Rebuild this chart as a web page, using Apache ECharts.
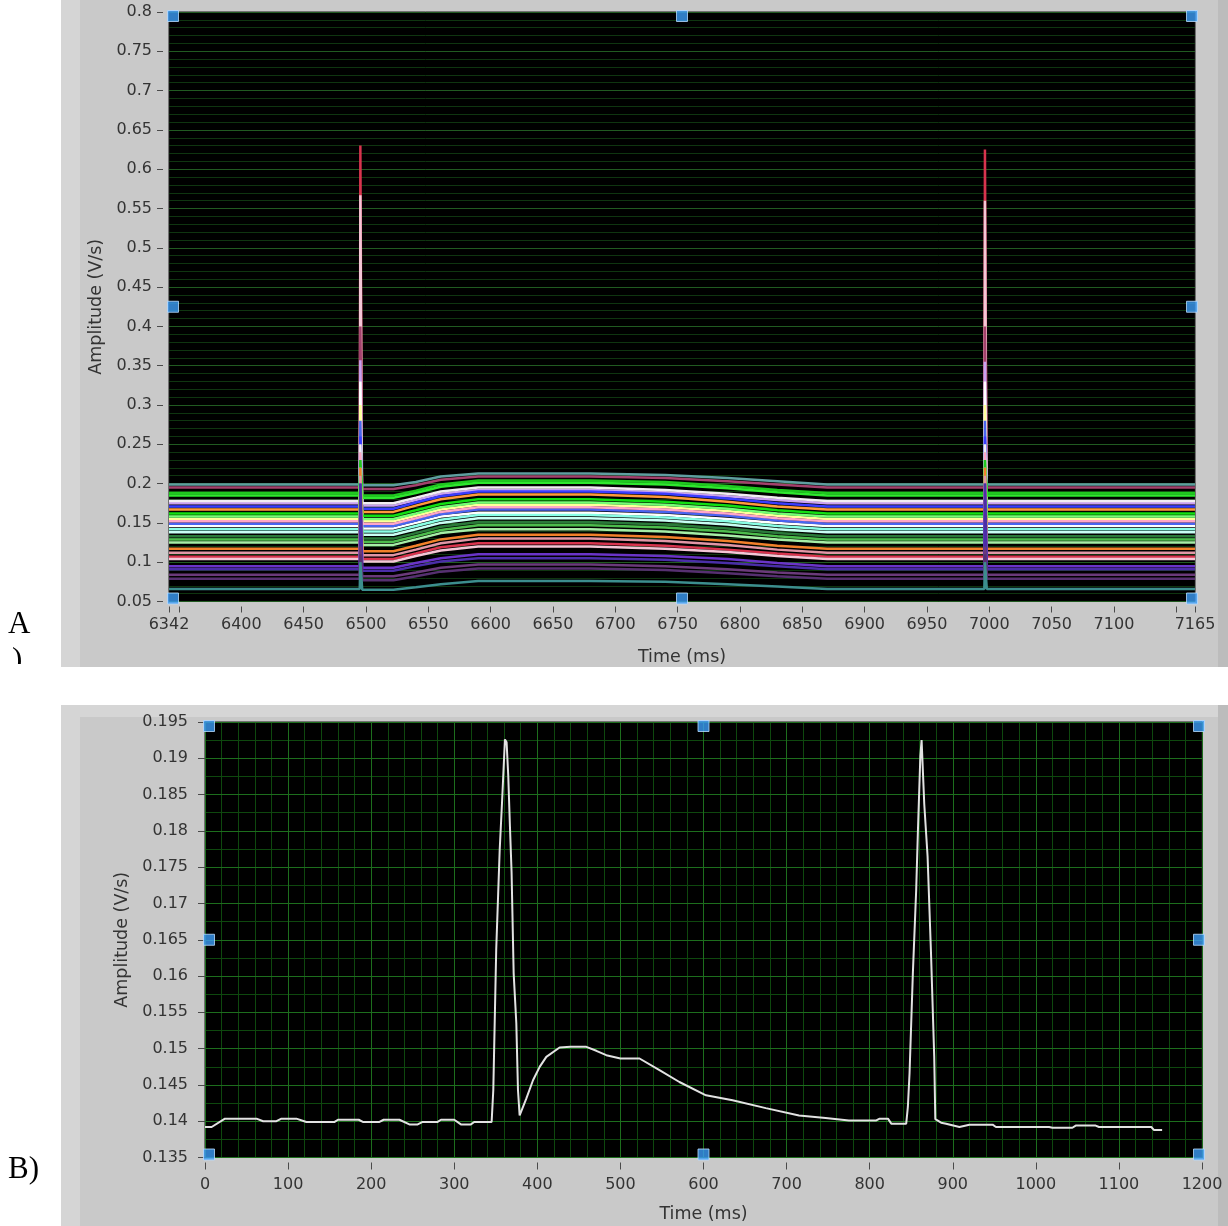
<!DOCTYPE html>
<html>
<head>
<meta charset="utf-8">
<title>Amplitude (V/s) vs Time (ms)</title>
<script src="https://cdn.jsdelivr.net/npm/echarts@6/dist/echarts.min.js"></script>
<style>
  html, body { margin: 0; padding: 0; background: #fff; }
  #main { width: 1228px; height: 1226px; }
</style>
</head>
<body>
<div id="main"></div>
<script>
// 面板A 坐标范围与刻度
var xMinA = 6342, xMaxA = 7165, yMinA = 0.05, yMaxA = 0.8
var xTicksA = [6342, 6350, 6400, 6450, 6500, 6550, 6600, 6650, 6700, 6750, 6800, 6850, 6900, 6950, 7000, 7050, 7100, 7150, 7165]
var xLabelsA = [6342, 6400, 6450, 6500, 6550, 6600, 6650, 6700, 6750, 6800, 6850, 6900, 6950, 7000, 7050, 7100, 7165]

// 面板A 各条曲线（时间点共用）
var timeA = [6342, 6495, 6495.5, 6496.5, 6497, 6522, 6540, 6560, 6590, 6680, 6740, 6790, 6830, 6870, 6996, 6996.5, 6997.5, 6998, 7165]
var colorsA = ['#d8344e', '#f4c6d6', '#a3416c', '#c9a0f0', '#ffffff', '#ffff9a', '#4a64f0', '#3a3cff', '#f2eef2', '#8affe6',
  '#ffa6c8', '#5f9ea0', '#1fc81f', '#2ee82e', '#ff9a3c', '#12e012', '#74ff74', '#c8fff4', '#2a7a3a', '#4cbc4c',
  '#a6eea6', '#f2802a', '#e296a6', '#6a34c8', '#4a2ea8', '#6a3a7a', '#563070', '#3c8e8e']
var tracesA = [
  [0.107, 0.107, 0.630, 0.630, 0.104, 0.104, 0.111, 0.119, 0.124, 0.124, 0.121, 0.116, 0.111, 0.107, 0.107, 0.625, 0.625, 0.107, 0.107],
  [0.104, 0.104, 0.567, 0.567, 0.101, 0.101, 0.108, 0.115, 0.120, 0.120, 0.117, 0.113, 0.108, 0.104, 0.104, 0.560, 0.560, 0.104, 0.104],
  [0.195, 0.195, 0.400, 0.400, 0.193, 0.193, 0.198, 0.205, 0.209, 0.209, 0.207, 0.203, 0.199, 0.195, 0.195, 0.400, 0.400, 0.195, 0.195],
  [0.175, 0.175, 0.357, 0.357, 0.172, 0.172, 0.179, 0.187, 0.192, 0.192, 0.189, 0.184, 0.179, 0.175, 0.175, 0.355, 0.355, 0.175, 0.175],
  [0.146, 0.146, 0.330, 0.330, 0.143, 0.143, 0.150, 0.158, 0.163, 0.163, 0.160, 0.155, 0.150, 0.146, 0.146, 0.330, 0.330, 0.146, 0.146],
  [0.155, 0.155, 0.300, 0.300, 0.152, 0.152, 0.159, 0.167, 0.173, 0.173, 0.170, 0.165, 0.159, 0.155, 0.155, 0.300, 0.300, 0.155, 0.155],
  [0.149, 0.149, 0.280, 0.280, 0.146, 0.146, 0.153, 0.161, 0.167, 0.167, 0.164, 0.159, 0.153, 0.149, 0.149, 0.280, 0.280, 0.149, 0.149],
  [0.171, 0.171, 0.260, 0.260, 0.168, 0.168, 0.176, 0.184, 0.190, 0.190, 0.187, 0.181, 0.175, 0.171, 0.171, 0.260, 0.260, 0.171, 0.171],
  [0.178, 0.178, 0.250, 0.250, 0.175, 0.175, 0.182, 0.190, 0.195, 0.195, 0.192, 0.187, 0.182, 0.178, 0.178, 0.250, 0.250, 0.178, 0.178],
  [0.142, 0.142, 0.240, 0.240, 0.139, 0.139, 0.146, 0.154, 0.160, 0.160, 0.157, 0.152, 0.146, 0.142, 0.142, 0.240, 0.240, 0.142, 0.142],
  [0.152, 0.152, 0.240, 0.240, 0.149, 0.149, 0.156, 0.164, 0.170, 0.170, 0.167, 0.162, 0.156, 0.152, 0.152, 0.240, 0.240, 0.152, 0.152],
  [0.199, 0.199, 0.215, 0.215, 0.198, 0.198, 0.202, 0.209, 0.213, 0.213, 0.211, 0.207, 0.203, 0.199, 0.199, 0.213, 0.213, 0.199, 0.199],
  [0.188, 0.188, 0.230, 0.230, 0.185, 0.185, 0.191, 0.199, 0.204, 0.204, 0.202, 0.197, 0.192, 0.188, 0.188, 0.230, 0.230, 0.188, 0.188],
  [0.185, 0.185, 0.220, 0.220, 0.182, 0.182, 0.188, 0.196, 0.201, 0.201, 0.199, 0.194, 0.189, 0.185, 0.185, 0.220, 0.220, 0.185, 0.185],
  [0.167, 0.167, 0.210, 0.210, 0.164, 0.164, 0.172, 0.180, 0.186, 0.186, 0.183, 0.177, 0.171, 0.167, 0.167, 0.210, 0.210, 0.167, 0.167],
  [0.162, 0.162, 0.220, 0.220, 0.159, 0.159, 0.166, 0.174, 0.180, 0.180, 0.177, 0.172, 0.166, 0.162, 0.162, 0.220, 0.220, 0.162, 0.162],
  [0.158, 0.158, 0.210, 0.210, 0.155, 0.155, 0.162, 0.170, 0.176, 0.176, 0.173, 0.168, 0.162, 0.158, 0.158, 0.210, 0.210, 0.158, 0.158],
  [0.138, 0.138, 0.220, 0.220, 0.135, 0.135, 0.142, 0.150, 0.156, 0.156, 0.153, 0.148, 0.142, 0.138, 0.138, 0.220, 0.220, 0.138, 0.138],
  [0.133, 0.133, 0.210, 0.210, 0.130, 0.130, 0.137, 0.145, 0.151, 0.151, 0.148, 0.143, 0.137, 0.133, 0.133, 0.210, 0.210, 0.133, 0.133],
  [0.129, 0.129, 0.210, 0.210, 0.126, 0.126, 0.133, 0.141, 0.147, 0.147, 0.144, 0.139, 0.133, 0.129, 0.129, 0.210, 0.210, 0.129, 0.129],
  [0.125, 0.125, 0.200, 0.200, 0.122, 0.122, 0.129, 0.137, 0.142, 0.142, 0.139, 0.134, 0.129, 0.125, 0.125, 0.200, 0.200, 0.125, 0.125],
  [0.117, 0.117, 0.220, 0.220, 0.114, 0.114, 0.121, 0.129, 0.135, 0.135, 0.132, 0.127, 0.121, 0.117, 0.117, 0.220, 0.220, 0.117, 0.117],
  [0.112, 0.112, 0.210, 0.210, 0.109, 0.109, 0.116, 0.124, 0.130, 0.130, 0.127, 0.122, 0.116, 0.112, 0.112, 0.210, 0.210, 0.112, 0.112],
  [0.095, 0.095, 0.200, 0.200, 0.093, 0.093, 0.099, 0.105, 0.110, 0.110, 0.108, 0.104, 0.099, 0.095, 0.095, 0.200, 0.200, 0.095, 0.095],
  [0.091, 0.091, 0.200, 0.200, 0.089, 0.089, 0.095, 0.101, 0.105, 0.105, 0.103, 0.099, 0.095, 0.091, 0.091, 0.200, 0.200, 0.091, 0.091],
  [0.084, 0.084, 0.120, 0.120, 0.082, 0.082, 0.087, 0.093, 0.097, 0.097, 0.095, 0.091, 0.087, 0.084, 0.084, 0.120, 0.120, 0.084, 0.084],
  [0.079, 0.079, 0.110, 0.110, 0.077, 0.077, 0.082, 0.088, 0.092, 0.092, 0.090, 0.086, 0.082, 0.079, 0.079, 0.110, 0.110, 0.079, 0.079],
  [0.066, 0.066, 0.100, 0.100, 0.065, 0.065, 0.068, 0.072, 0.076, 0.076, 0.075, 0.072, 0.069, 0.066, 0.066, 0.100, 0.100, 0.066, 0.066]
]

// 面板B 坐标范围
var xMinB = 0, xMaxB = 1200, yMinB = 0.135, yMaxB = 0.195

// 面板B 单条曲线
var timeB = [0, 8, 24, 62, 70, 86, 92, 110, 122, 156, 160, 185, 190, 210, 215, 234,
  246, 256, 262, 280, 284, 300, 308, 320, 324, 345, 347, 350.5, 354.7, 357.5, 361, 363,
  365, 367, 369, 371.5, 374.7, 376.7, 378.7, 386.7, 394.8, 402.8, 410.8, 426.8, 440, 459, 471, 483,
  500, 523, 547, 571, 603, 635, 675, 715, 747, 775, 808, 812, 822, 826, 844, 846,
  848, 852, 856, 858, 861, 862.5, 865.7, 869.7, 873.7, 877.7, 879, 886, 892, 908, 920, 948,
  952, 1016, 1020, 1044, 1048, 1072, 1076, 1139, 1142, 1152]
var ampB = [0.1392, 0.1392, 0.14035, 0.14035, 0.14, 0.14, 0.14035, 0.14035, 0.1399, 0.1399, 0.1402, 0.1402, 0.1399, 0.1399, 0.1402, 0.1402,
  0.13956, 0.13956, 0.1399, 0.1399, 0.1402, 0.1402, 0.13956, 0.13956, 0.1399, 0.1399, 0.1443, 0.1636, 0.1774, 0.1839, 0.1926, 0.1922,
  0.1876, 0.1807, 0.1743, 0.1604, 0.1535, 0.1443, 0.1408, 0.1431, 0.14564, 0.14748, 0.14887, 0.15016, 0.15025, 0.15025, 0.1497, 0.1491,
  0.14864, 0.14864, 0.14703, 0.1454, 0.14357, 0.14288, 0.1418, 0.1408, 0.14044, 0.1401, 0.1401, 0.14035, 0.14035, 0.13966, 0.13966, 0.142,
  0.1466, 0.1604, 0.1719, 0.1797, 0.1903, 0.1925, 0.1837, 0.1765, 0.1636, 0.1489, 0.1403, 0.1398, 0.13966, 0.1392, 0.13952, 0.13952,
  0.1392, 0.1392, 0.1391, 0.1391, 0.1394, 0.1394, 0.1392, 0.1392, 0.1388, 0.1388]

var tickFont = 'DejaVu Sans'
var labelColor = '#343434'
var plainNum = function (v) { return String(+v.toFixed(6)) }

// 角点/中点上的蓝色方块（按坐标轴范围放置）
function handles(x0, x1, y0, y1) {
  var xm = (x0 + x1) / 2, ym = (y0 + y1) / 2
  var pts = [[x0, y1, 4, 4], [xm, y1, 0, 4], [x1, y1, -3, 4], [x0, ym, 4, 0], [x1, ym, -3, 0], [x0, y0, 4, -3], [xm, y0, 0, -3], [x1, y0, -3, -3]]
  return pts.map(function (p) {
    return { value: [p[0], p[1]], symbolOffset: [p[2], p[3]] }
  })
}

function valueAxis(grid, opt) {
  var ax = {
    type: 'value',
    gridIndex: grid,
    z: 1,
    axisLine: { show: false },
    axisTick: { show: true, length: 6, lineStyle: { color: '#4a4a4a', width: 1 } },
    nameLocation: 'middle',
    nameTextStyle: { color: labelColor, fontSize: 17.5, fontFamily: tickFont },
    splitLine: { show: false }
  }
  for (var k in opt) ax[k] = opt[k]
  return ax
}
// 次网格线：只画分隔线的隐藏轴
function minorAxis(grid, min, max, interval, color) {
  return {
    type: 'value', gridIndex: grid, z: 0, min: min, max: max, interval: interval,
    axisLine: { show: false }, axisTick: { show: false }, axisLabel: { show: false },
    splitLine: { show: true, lineStyle: { color: color, width: 1 } }
  }
}
function labelStyle(margin, extra) {
  var s = { color: labelColor, fontSize: 16, fontFamily: tickFont, margin: margin, formatter: plainNum }
  for (var k in extra) s[k] = extra[k]
  return s
}

var seriesList = []
tracesA.forEach(function (vals, i) {
  seriesList.push({
    type: 'line',
    xAxisIndex: 0,
    yAxisIndex: 0,
    data: timeA.map(function (t, k) { return [t, vals[k]] }),
    showSymbol: false,
    silent: true,
    lineStyle: { color: colorsA[i], width: 2.5 }
  })
})
seriesList.push({
  type: 'line',
  xAxisIndex: 1,
  yAxisIndex: 1,
  data: timeB.map(function (t, k) { return [t, ampB[k]] }),
  showSymbol: false,
  silent: true,
  lineStyle: { color: '#e2e2e2', width: 2 }
})
var handleStyle = { color: '#3c9cf6', borderColor: '#b8dcff', borderWidth: 1 }
seriesList.push({ type: 'scatter', xAxisIndex: 0, yAxisIndex: 0, symbol: 'rect', symbolSize: 11, clip: false, silent: true, z: 10,
  itemStyle: handleStyle, data: handles(xMinA, xMaxA, yMinA, yMaxA) })
seriesList.push({ type: 'scatter', xAxisIndex: 1, yAxisIndex: 1, symbol: 'rect', symbolSize: 11, clip: false, silent: true, z: 10,
  itemStyle: handleStyle, data: handles(xMinB, xMaxB, yMinB, yMaxB) })

var chart = echarts.init(document.getElementById('main'))
chart.setOption({
  backgroundColor: '#ffffff',
  animation: false,
  graphic: { elements: [
    { type: 'rect', z: -10, shape: { x: 61, y: 0, width: 1167, height: 667 }, style: { fill: '#c9c9c9' } },
    { type: 'rect', z: -9, shape: { x: 61, y: 0, width: 19, height: 667 }, style: { fill: '#d5d5d5' } },
    { type: 'rect', z: -9, shape: { x: 1218, y: 0, width: 10, height: 667 }, style: { fill: '#bcbcbc' } },
    { type: 'rect', z: -10, shape: { x: 61, y: 705, width: 1167, height: 521 }, style: { fill: '#c9c9c9' } },
    { type: 'rect', z: -9, shape: { x: 61, y: 705, width: 1167, height: 12 }, style: { fill: '#d6d6d6' } },
    { type: 'rect', z: -9, shape: { x: 61, y: 705, width: 19, height: 521 }, style: { fill: '#d5d5d5' } },
    { type: 'rect', z: -9, shape: { x: 1218, y: 705, width: 10, height: 521 }, style: { fill: '#bcbcbc' } },
    { type: 'text', x: 8, y: 609, style: { text: 'A', font: '31px "Liberation Serif"', fill: '#000', verticalAlign: 'top' } },
    { type: 'text', x: 12, y: 645, style: { text: ')', font: '31px "Liberation Serif"', fill: '#000', verticalAlign: 'top' } },
    { type: 'rect', z: 5, shape: { x: 0, y: 664, width: 60, height: 40 }, style: { fill: '#ffffff' } },
    { type: 'text', x: 8, y: 1154, style: { text: 'B)', font: '31px "Liberation Serif"', fill: '#000', verticalAlign: 'top' } }
  ] },
  grid: [
    { left: 169, right: 33, top: 12, bottom: 624.5, show: true, backgroundColor: '#000', borderColor: '#1a1a1a', borderWidth: 1 },
    { left: 205, right: 26, top: 722, bottom: 68.5, show: true, backgroundColor: '#000', borderColor: '#1a1a1a', borderWidth: 1 }
  ],
  xAxis: [
    valueAxis(0, {
      min: xMinA, max: xMaxA, offset: 5,
      axisTick: { show: true, length: 6, customValues: xTicksA, lineStyle: { color: '#4a4a4a' } },
      axisLabel: labelStyle(10, { customValues: xLabelsA }),
      name: 'Time (ms)', nameGap: 42
    }),
    valueAxis(1, {
      min: xMinB, max: xMaxB, interval: 100, offset: 5,
      axisTick: { show: true, length: 7, lineStyle: { color: '#4a4a4a' } },
      axisLabel: labelStyle(14),
      splitLine: { show: true, lineStyle: { color: '#1d6e1d', width: 1 } },
      name: 'Time (ms)', nameGap: 43
    }),
    minorAxis(1, xMinB, xMaxB, 20, '#0e480e')
  ],
  yAxis: [
    valueAxis(0, {
      min: yMinA, max: yMaxA, interval: 0.05, offset: 6,
      axisLabel: labelStyle(11),
      splitLine: { show: true, lineStyle: { color: '#215a21', width: 1 } },
      name: 'Amplitude (V/s)', nameGap: 54, nameRotate: 90
    }),
    valueAxis(1, {
      min: yMinB, max: yMaxB, interval: 0.005, offset: 5,
      axisTick: { show: true, length: 7, lineStyle: { color: '#4a4a4a' } },
      axisLabel: labelStyle(12),
      splitLine: { show: true, lineStyle: { color: '#1d6e1d', width: 1 } },
      name: 'Amplitude (V/s)', nameGap: 68, nameRotate: 90
    }),
    minorAxis(0, yMinA, yMaxA, 0.01, '#0f3510'),
    minorAxis(1, yMinB, yMaxB, 0.0025, '#0e480e')
  ],
  series: seriesList
})
</script>
</body>
</html>
